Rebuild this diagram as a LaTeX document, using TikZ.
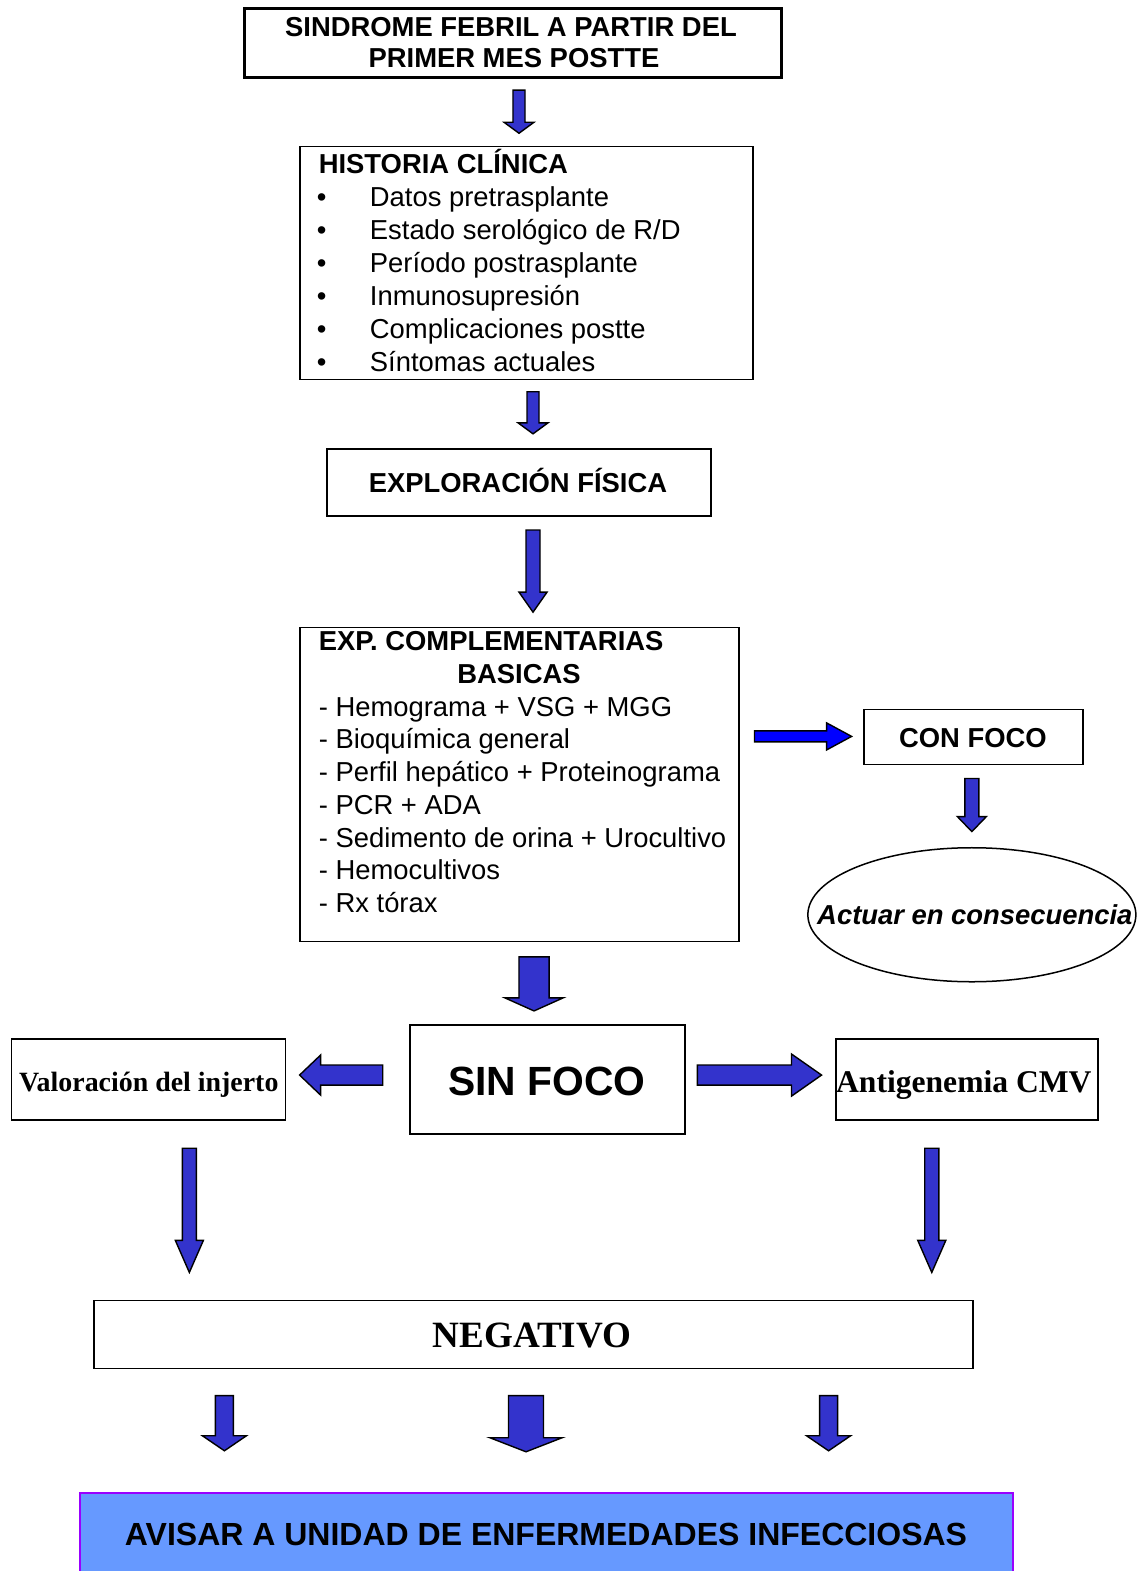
\documentclass[tikz,border=0pt]{standalone}
\usepackage{fontspec}
\setmainfont{Liberation Sans}
\newfontfamily\timesfam{Liberation Serif}
\usetikzlibrary{shapes.geometric}

\definecolor{arrowfill}{HTML}{3333CC}
\definecolor{purearrow}{HTML}{0000FF}
\definecolor{alertfill}{HTML}{6699FF}
\definecolor{alertline}{HTML}{9900FF}

% text sizes
\newcommand\bodysize{\fontsize{27.4}{33}\selectfont}
\newcommand\bodybold{\bodysize\bfseries}

% block arrows: centre, start, end, shaft thickness, head width, head length
\newcommand\blockdown[6]{%
  \filldraw[blockarrow] ({#1-#4/2},#2) -- ({#1+#4/2},#2) -- ({#1+#4/2},{#3-#6})
    -- ({#1+#5/2},{#3-#6}) -- (#1,#3) -- ({#1-#5/2},{#3-#6})
    -- ({#1-#4/2},{#3-#6}) -- cycle;}
\newcommand\blockright[7][arrowfill]{%
  \filldraw[blockarrow, fill=#1] (#3,{#2-#5/2}) -- (#3,{#2+#5/2}) -- ({#4-#7},{#2+#5/2})
    -- ({#4-#7},{#2+#6/2}) -- (#4,#2) -- ({#4-#7},{#2-#6/2})
    -- ({#4-#7},{#2-#5/2}) -- cycle;}

\tikzset{
  box/.style={draw, line width=1.5pt, inner sep=0pt},
  line/.style={inner sep=0pt, font=\bodysize},
  boldline/.style={inner sep=0pt, font=\bodybold},
  blockarrow/.style={draw=black, line width=1.4pt, fill=arrowfill, line join=miter},
}

\begin{document}
\begin{tikzpicture}[x=1.0018pt, y=-1.0018pt]
\useasboundingbox (0,0) rectangle (1138,1568);

% ---- opening box
\node[box, line width=3pt, minimum width=536pt, minimum height=69pt] (fever) at (512,42.5) {};
\node[boldline, anchor=base] (fever1) at (510,36) {SINDROME FEBRIL A PARTIR DEL};
\node[boldline, anchor=base] (fever2) at (513,67) {PRIMER MES POSTTE};

\blockdown{518}{90}{133}{12}{30}{11}

% ---- clinical history
\node[box, minimum width=453pt, minimum height=233pt] (history) at (525.5,262.5) {};
\node[boldline, anchor=base west] (histtitle) at (318,173) {HISTORIA CLÍNICA};
\foreach \t [count=\i] in {Datos pretrasplante, Estado serológico de R/D,
    Período postrasplante, Inmunosupresión, Complicaciones postte, Síntomas actuales}{
  \node[line, anchor=base west] (bul\i) at (316,{173+33*\i}) {•};
  \node[line, anchor=base west] (hist\i) at (369,{173+33*\i}) {\t};
}

\blockdown{532}{391}{433}{12}{30}{11}

% ---- physical examination
\node[box, minimum width=384pt, minimum height=67pt] (exam) at (518,481.5) {};
\node[boldline, anchor=base] (examtext) at (517,492) {EXPLORACIÓN FÍSICA};

\blockdown{532}{529}{611}{14}{28}{20}

% ---- basic complementary tests
\node[box, minimum width=439pt, minimum height=314pt] (tests) at (518.5,783) {};
\node[boldline, anchor=base west] (teststitle) at (318,649) {EXP. COMPLEMENTARIAS};
\node[boldline, anchor=base] (teststitle2) at (518,682) {BASICAS};
\foreach \t/\yb [count=\i] in {Hemograma + VSG + MGG/715, Bioquímica general/747,
    Perfil hepático + Proteinograma/780, PCR + ADA/813,
    Sedimento de orina + Urocultivo/846, Hemocultivos/878, Rx tórax/911}{
  \node[line, anchor=base west] (test\i) at (318,\yb) {- \t};
}

% ---- with focus branch
\blockright[purearrow]{735}{753}{850}{11}{27}{25}
\node[box, minimum width=219pt, minimum height=55pt] (focus) at (971.5,735.5) {};
\node[boldline, anchor=base] (focustext) at (971,746) {CON FOCO};
\blockdown{970}{777}{830}{14}{29}{15}
\node[draw, ellipse, line width=1.5pt, inner sep=0pt, minimum width=328pt, minimum height=134pt] (act) at (970,913) {};
\node[inner sep=0pt, font=\bodysize\bfseries\itshape] (acttext) at (973,913) {Actuar en consecuencia};

\blockdown{533}{955}{1009}{30}{58}{13}

% ---- without focus
\node[box, minimum width=275pt, minimum height=109pt] (nofocus) at (546.5,1077.5) {};
\node[inner sep=0pt, anchor=base, font=\fontsize{40.8}{48}\selectfont\bfseries] (nofocustext) at (546,1093) {SIN FOCO};

% left arrow
\filldraw[blockarrow] (382,1063) -- (382,1083) -- (320,1083) -- (320,1093) -- (299,1073)
  -- (320,1053) -- (320,1063) -- cycle;
% right arrow
\blockright{1073}{696}{820}{20}{42}{30}

\node[box, minimum width=274pt, minimum height=81pt] (graft) at (148,1077.5) {};
\node[inner sep=0pt, anchor=base, font=\timesfam\fontsize{27.9}{32}\selectfont\bfseries] (grafttext) at (148.5,1089) {Valoración del injerto};
\node[box, minimum width=262pt, minimum height=81pt] (cmv) at (965,1077.5) {};
\node[inner sep=0pt, anchor=base, font=\timesfam\fontsize{31.6}{36}\selectfont\bfseries] (cmvtext) at (962,1090) {Antigenemia CMV};

\blockdown{189}{1146}{1270}{14}{28}{32}
\blockdown{930}{1146}{1270}{14}{28}{32}

% ---- negative result
\node[box, minimum width=879pt, minimum height=68pt] (negative) at (532.5,1332) {};
\node[inner sep=0pt, anchor=base, font=\timesfam\fontsize{37.1}{40}\selectfont\bfseries] (negativetext) at (531,1344.5) {NEGATIVO};

\blockdown{224}{1393}{1448}{18}{44}{15}
\blockdown{525}{1393}{1449}{35}{72}{14}
\blockdown{827}{1393}{1448}{18}{44}{15}

% ---- final action
\node[draw=alertline, fill=alertfill, line width=1.5pt, inner sep=0pt, minimum width=933pt, minimum height=90pt] (notify) at (545.5,1535) {};
\node[inner sep=0pt, anchor=base, font=\fontsize{32}{38}\selectfont\bfseries] (notifytext) at (545,1542.5) {AVISAR A UNIDAD DE ENFERMEDADES INFECCIOSAS};
\end{tikzpicture}
\end{document}
